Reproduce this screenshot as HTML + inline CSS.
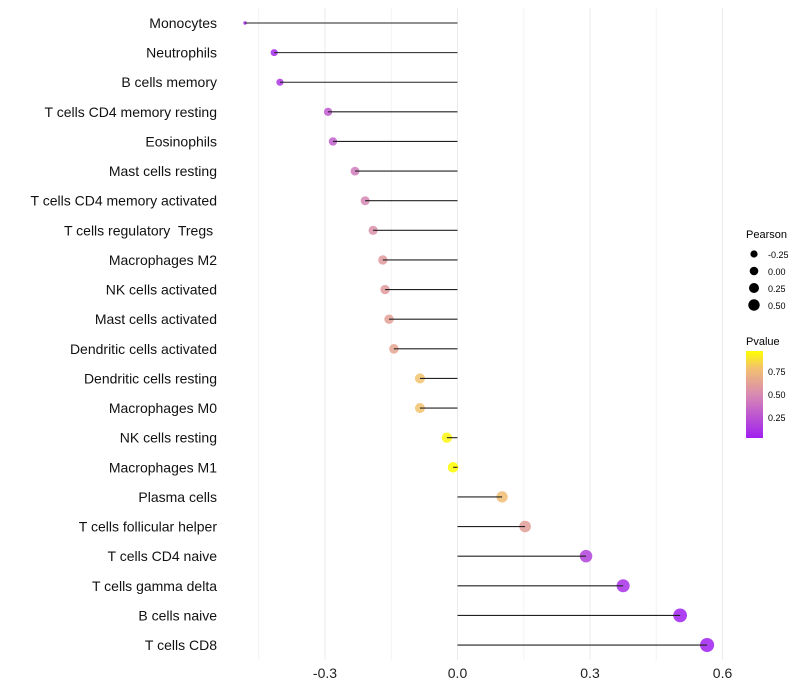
<!DOCTYPE html>
<html><head><meta charset="utf-8"><style>
body{margin:0;background:#fff;font-family:"Liberation Sans",sans-serif}
svg{display:block}
text{white-space:pre}
</style></head><body>
<svg id="chart" width="800" height="700">
<defs><linearGradient id="pg" x1="0" y1="1" x2="0" y2="0">
<stop offset="0" stop-color="#A020F0"/><stop offset="0.5" stop-color="#D88AB2"/><stop offset="0.8" stop-color="#F2C070"/><stop offset="1" stop-color="#FFFF00"/></linearGradient></defs>
<g id="grid"></g><g id="points"></g><g id="marks"></g><g id="labels"></g>
<g font-size="10">
<text x="746" y="238" font-size="11">Pearson</text>
<circle cx="754" cy="254" r="3.6"/><text x="768" y="258" font-size="9">-0.25</text>
<circle cx="754" cy="271" r="4.3"/><text x="768" y="275" font-size="9">0.00</text>
<circle cx="754" cy="288" r="5"/><text x="768" y="292" font-size="9">0.25</text>
<circle cx="754" cy="305" r="5.7"/><text x="768" y="309" font-size="9">0.50</text>
<text x="746" y="345" font-size="11">Pvalue</text>
<rect x="746" y="351" width="17" height="87" fill="url(#pg)"/>
<text x="768" y="375" font-size="9">0.75</text>
<text x="768" y="398" font-size="9">0.50</text>
<text x="768" y="421" font-size="9">0.25</text>
</g>
</svg>
<script>
const categories=["Monocytes","Neutrophils","B cells memory","T cells CD4 memory resting","Eosinophils","Mast cells resting","T cells CD4 memory activated","T cells regulatory  Tregs ","Macrophages M2","NK cells activated","Mast cells activated","Dendritic cells activated","Dendritic cells resting","Macrophages M0","NK cells resting","Macrophages M1","Plasma cells","T cells follicular helper","T cells CD4 naive","T cells gamma delta","B cells naive","T cells CD8"];
const pearson=[-0.481,-0.415,-0.402,-0.293,-0.282,-0.232,-0.209,-0.191,-0.169,-0.164,-0.155,-0.144,-0.085,-0.085,-0.024,-0.010,0.101,0.153,0.291,0.375,0.504,0.565];
const pvalue=[0.05,0.1,0.15,0.3,0.32,0.45,0.5,0.55,0.6,0.6,0.63,0.66,0.8,0.8,0.95,0.99,0.78,0.62,0.2,0.12,0.04,0.02];
const ticks=[-0.3,0,0.3,0.6];
const tickLabels=["-0.3","0.0","0.3","0.6"];
const NS="http://www.w3.org/2000/svg";
const x=v=>457.5+v*441.7;
const y=i=>23+i*29.62;
const pmin=Math.min(...pearson);
const rad=v=>{const d=v-pmin;return d<0.05?Math.sqrt(3+120*d):Math.sqrt(10+38*d);};
function lerp(a,b,t){return a.map((c,i)=>Math.round(c+(b[i]-c)*t));}
const stops=[[0,[160,32,240]],[0.5,[216,138,178]],[0.8,[242,192,112]],[1,[255,255,0]]];
function col(p){const c=Math.max(0,Math.min(1,(p-0.05)/0.93));for(let i=1;i<stops.length;i++){if(c<=stops[i][0]){const s=stops[i-1];const u=(c-s[0])/(stops[i][0]-s[0]);return "rgb("+lerp(s[1],stops[i][1],u).join(",")+")";}}return "rgb(255,255,0)";}
function mk(t,a,p){const e=document.createElementNS(NS,t);for(const k in a)e.setAttribute(k,a[k]);p.appendChild(e);return e;}
const grid=document.getElementById("grid"),points=document.getElementById("points"),marks=document.getElementById("marks"),labels=document.getElementById("labels");
[-0.45,-0.15,0.15,0.45].forEach(v=>{const l=mk("line",{x1:x(v),x2:x(v),y1:8,y2:660,stroke:"#f2f2f2","stroke-width":1},grid);

});
ticks.forEach((v,i)=>{const l=mk("line",{x1:x(v),x2:x(v),y1:8,y2:660,stroke:"#ebebeb","stroke-width":1},grid);


const t=mk("text",{x:x(v),y:678,"text-anchor":"middle","font-size":14,fill:"#222"},labels);t.textContent=tickLabels[i];

});
categories.forEach((c,i)=>{
const d=mk("circle",{cx:x(pearson[i]),cy:y(i),r:rad(pearson[i]),fill:col(pvalue[i]),"fill-opacity":0.85},points);


const l=mk("line",{x1:x(0),x2:x(pearson[i]),y1:y(i),y2:y(i),stroke:"#222","stroke-width":1.1},marks);


const t=mk("text",{x:217,y:y(i)+5,"text-anchor":"end","font-size":14,fill:"#111"},labels);t.textContent=c;

});
</script>
</body></html>
